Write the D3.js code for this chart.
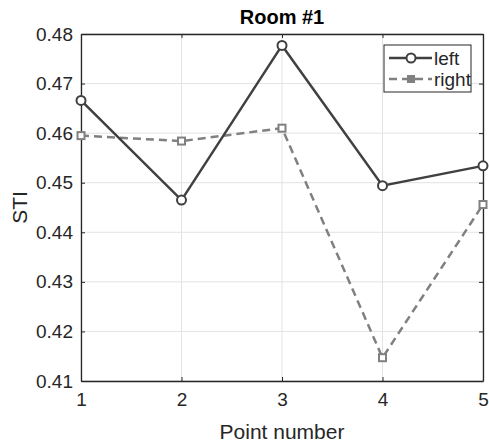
<!DOCTYPE html>
<html>
<head>
<meta charset="utf-8">
<script src="https://cdn.jsdelivr.net/npm/d3@7"></script>
<style>
  html, body { margin: 0; padding: 0; background: #fff; }
  text { font-family: "Liberation Sans", Arial, Helvetica, sans-serif; fill: #262626; }
</style>
</head>
<body>
<div id="chart"></div>
<script>
// data
const points = [1, 2, 3, 4, 5];
const leftSTI = [0.4666, 0.4465, 0.4777, 0.4494, 0.4534];
const rightSTI = [0.4595, 0.4584, 0.4610, 0.4147, 0.4456];
const yTicks = [0.41, 0.42, 0.43, 0.44, 0.45, 0.46, 0.47, 0.48];
const seriesNames = ["left", "right"];

const width = 489;
const height = 446;
const margin = { top: 34, right: 6, bottom: 65, left: 81 };

const svg = d3.select("#chart")
  .append("svg")
  .attr("width", width)
  .attr("height", height);

const x = d3.scaleLinear()
  .domain([1, 5])
  .range([margin.left, width - margin.right]);

const y = d3.scaleLinear()
  .domain([0.41, 0.48])
  .range([height - margin.bottom, margin.top]);

const plotW = width - margin.right - margin.left;
const plotH = height - margin.bottom - margin.top;

// grid
svg.append("g")
  .selectAll("line.gx")
  .data(points)
  .join("line")
  .attr("x1", d => x(d)).attr("x2", d => x(d))
  .attr("y1", margin.top).attr("y2", height - margin.bottom)
  .attr("stroke", "#e3e3e3").attr("stroke-width", 1);

svg.append("g")
  .selectAll("line.gy")
  .data(yTicks)
  .join("line")
  .attr("y1", d => y(d)).attr("y2", d => y(d))
  .attr("x1", margin.left).attr("x2", width - margin.right)
  .attr("stroke", "#e3e3e3").attr("stroke-width", 1);

// axes (ticks point inward)
const axisStyle = g => {
  g.select(".domain").attr("stroke", "#262626").attr("stroke-width", 1.3);
  g.selectAll(".tick line").attr("stroke", "#262626");
  g.selectAll(".tick text").style("font-size", "19px").attr("fill", "#262626");
};

svg.append("g")
  .attr("transform", `translate(0,${height - margin.bottom})`)
  .call(d3.axisBottom(x).tickValues(points).tickFormat(d3.format("d")).tickSizeInner(-4).tickSizeOuter(0).tickPadding(12))
  .call(axisStyle);

svg.append("g")
  .attr("transform", `translate(0,${margin.top})`)
  .call(d3.axisTop(x).tickValues(points).tickFormat("").tickSizeInner(-4).tickSizeOuter(0))
  .call(axisStyle);

svg.append("g")
  .attr("transform", `translate(${margin.left},0)`)
  .call(d3.axisLeft(y).tickValues(yTicks).tickFormat(d3.format(".2f")).tickSizeInner(-4).tickSizeOuter(0).tickPadding(8))
  .call(axisStyle);

svg.append("g")
  .attr("transform", `translate(${width - margin.right},0)`)
  .call(d3.axisRight(y).tickValues(yTicks).tickFormat("").tickSizeInner(-4).tickSizeOuter(0))
  .call(axisStyle);

// lines
const line = d3.line()
  .x((d, i) => x(points[i]))
  .y(d => y(d));

svg.append("path")
  .datum(rightSTI)
  .attr("d", line)
  .attr("fill", "none")
  .attr("stroke", "#808080")
  .attr("stroke-width", 2.5)
  .attr("stroke-dasharray", "8,5");

svg.append("g")
  .selectAll("rect")
  .data(rightSTI)
  .join("rect")
  .attr("x", (d, i) => x(points[i]) - 3.5)
  .attr("y", d => y(d) - 3.5)
  .attr("width", 7).attr("height", 7)
  .attr("fill", "#fff")
  .attr("stroke", "#808080").attr("stroke-width", 2);

svg.append("path")
  .datum(leftSTI)
  .attr("d", line)
  .attr("fill", "none")
  .attr("stroke", "#404040")
  .attr("stroke-width", 2.5);

svg.append("g")
  .selectAll("circle")
  .data(leftSTI)
  .join("circle")
  .attr("cx", (d, i) => x(points[i]))
  .attr("cy", d => y(d))
  .attr("r", 4.5)
  .attr("fill", "#fff")
  .attr("stroke", "#404040").attr("stroke-width", 2);

// title and axis labels
svg.append("text")
  .attr("x", margin.left + plotW / 2)
  .attr("y", 24)
  .attr("text-anchor", "middle")
  .style("font-size", "20px")
  .style("font-weight", "bold")
  .style("fill", "#000")
  .text("Room #1");

svg.append("text")
  .attr("x", margin.left + plotW / 2)
  .attr("y", 439)
  .attr("text-anchor", "middle")
  .style("font-size", "21px")
  .text("Point number");

svg.append("text")
  .attr("transform", `translate(27,${margin.top + plotH / 2}) rotate(-90)`)
  .attr("text-anchor", "middle")
  .style("font-size", "21px")
  .text("STI");

// legend
const legend = svg.append("g").attr("transform", "translate(384,45)");
legend.append("rect")
  .attr("width", 87).attr("height", 47)
  .attr("fill", "#fff")
  .attr("stroke", "#262626").attr("stroke-width", 1);

const legendRows = legend.selectAll("g.row")
  .data(seriesNames)
  .join("g")
  .attr("transform", (d, i) => `translate(0,${13 + i * 21})`);

legendRows.append("line")
  .attr("x1", 5).attr("x2", 48)
  .attr("stroke", (d, i) => i === 0 ? "#404040" : "#808080")
  .attr("stroke-width", 2.5)
  .attr("stroke-dasharray", (d, i) => i === 0 ? null : "8,5");

legendRows.filter((d, i) => i === 0).append("circle")
  .attr("cx", 27).attr("r", 4.5)
  .attr("fill", "#fff").attr("stroke", "#404040").attr("stroke-width", 2);

legendRows.filter((d, i) => i === 1).append("rect")
  .attr("x", 23).attr("y", -4).attr("width", 8).attr("height", 8)
  .attr("fill", "#808080");

legendRows.append("text")
  .attr("x", 50).attr("y", 7)
  .style("font-size", "19px")
  .text(d => d);
</script>
</body>
</html>
